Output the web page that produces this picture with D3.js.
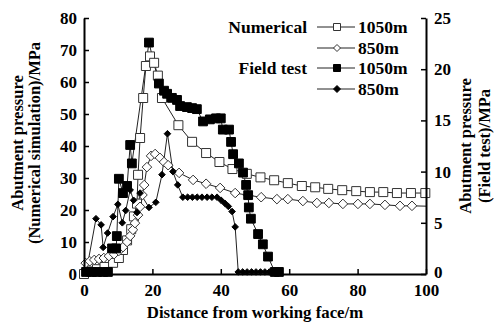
<!DOCTYPE html>
<html>
<head>
<meta charset="utf-8">
<script src="https://cdn.jsdelivr.net/npm/d3@7"></script>
<style>
  body { margin: 0; background: #fff; }
  svg { display: block; }
  text { font-family: "Liberation Serif", "Times New Roman", serif; font-weight: bold; fill: #000; }
</style>
</head>
<body>
<svg width="496" height="323"></svg>
<script>
// Numerical simulation, left axis (MPa)
var num1050X = [0, 1.8, 3.8, 6, 8.5, 10.2, 11.4, 12.6, 13.8, 14.6, 15.5, 15.8, 16.4, 17.3, 18.1, 19.3, 20.5, 21.6, 22.8, 27.6,
    31.6, 35.7, 39.6, 43.4, 47.6, 51.6, 55.6, 59.6, 63.7, 67.6, 71.4, 75.5, 79.6, 83.6, 87.5, 91.5, 95.6, 99.8];
var num1050Y = [0, 0.8, 1.5, 2.2, 3.5, 5, 7.5, 10.5, 14, 18, 22, 31, 42.5, 55, 65, 68, 66, 62, 55, 46.5,
    41.3, 37.8, 35, 32.8, 31.3, 30.2, 29.3, 28.4, 27.5, 27.1, 26.6, 26.2, 25.9, 25.6, 25.6, 25.3, 25.3, 25.3];

var num850X = [0.5, 1.7, 3.0, 4.4, 5.8, 7.3, 8.8, 10.2, 11.4, 12.6, 13.5, 14.3, 14.9, 15.8, 16.4, 17.1, 17.6, 18.4, 19.6, 20.8,
    22.2, 23.4, 24.6, 27.8, 31.9, 35.7, 39.8, 44.2, 48, 51.8, 56.4, 59.6, 64, 68.1, 71.6, 75.7, 80.1, 83.6, 88, 92.4, 95.9, 100];
var num850Y = [3.4, 4, 4.4, 4.7, 5, 5.6, 6.2, 7.2, 8.4, 10, 11.9, 13.8, 15.9, 18.4, 21, 24.7, 27.8, 33.4, 36.9, 37.5,
    36.3, 35, 34, 31.6, 29.4, 28.2, 26.9, 25.3, 24.6, 24, 23.4, 23.4, 22.8, 22.2, 22.2, 21.9, 21.9, 21.9, 21.6, 21.3, 21.3, 21.2];

// Field test, right axis (MPa)
var field1050X = [0.6, 2.3, 3.8, 5.6, 7, 8.2, 9.4, 9.6, 10.2, 11.4, 12.6, 13.5, 14, 19, 21.9, 23.4, 24.3, 25.7, 27.2, 28.1,
    30.1, 31.6, 33, 34.8, 36.8, 38.6, 40, 40.6, 42.4, 43, 43.6, 45.3, 46.5, 47.4, 48, 48.2, 48.8, 50.9, 52.3, 53.8, 55.8, 57];
var field1050Y = [0.2, 0.2, 0.2, 0.2, 0.2, 2.5, 2.5, 3.7, 9.3, 7.9, 8.6, 12.6, 10.8, 22.6, 18.6, 17.9, 17.6, 17.2, 17, 16.4,
    16.3, 16.2, 16.1, 14.9, 15.1, 15.2, 15.2, 14.1, 14.1, 12.9, 11.7, 10.8, 9.9, 8.7, 7.7, 6.5, 5.4, 3.9, 2.9, 1.7, 0.2, 0.2];

var field850X = [0.6, 3.5, 5.0, 5.6, 6.9, 8.5, 9.9, 11.2, 12.2, 13.5, 14.5, 15.5, 16.4, 19, 21, 22.8, 24.4, 26, 27.4, 28.9,
    30.3, 31.7, 33.1, 34.5, 36, 37.4, 38.9, 40.1, 41.2, 42.2, 43.3, 44.2, 45.1, 46.4, 47.7, 49, 50.3, 51.6, 52.9, 54.2, 55.5];
var field850Y = [0.1, 5.4, 4.8, 2.6, 4.0, 5.6, 6.8, 5.0, 6.2, 8.2, 7.2, 6.0, 7.9, 6.5, 7.0, 9.7, 13.7, 10.0, 8.7, 7.5,
    7.5, 7.5, 7.5, 7.5, 7.5, 7.5, 7.5, 7.2, 6.9, 6.6, 6.1, 4.6, 0.2, 0.2, 0.2, 0.2, 0.2, 0.2, 0.2, 0.2, 0.2];

// Tick labels
var xTicks = [0, 20, 40, 60, 80, 100];
var yLeftTicks = [0, 10, 20, 30, 40, 50, 60, 70, 80];
var yRightTicks = [0, 5, 10, 15, 20, 25];

var svg = d3.select("svg"),
    margin = {top: 18, right: 70, bottom: 49, left: 84},
    width = svg.attr("width") - margin.left - margin.right,
    height = svg.attr("height") - margin.top - margin.bottom,
    g = svg.append("g").attr("transform", "translate(" + margin.left + "," + margin.top + ")");

var x = d3.scaleLinear().domain([0, 100]).range([0, width]),
    yL = d3.scaleLinear().domain([0, 80]).range([height, 0]),
    yR = d3.scaleLinear().domain([0, 25]).range([height, 0]);

function zip(xs, ys) {
    return xs.map(function(v, i) { return {x: v, y: ys[i]}; });
}

// de vier reeksen, met marker-type en welke y-as
var series = [
    {name: "num1050", data: zip(num1050X, num1050Y), y: yL, marker: "square", fill: "#fff", size: 9},
    {name: "num850", data: zip(num850X, num850Y), y: yL, marker: "diamond", fill: "#fff", size: 4.8},
    {name: "field850", data: zip(field850X, field850Y), y: yR, marker: "diamond", fill: "#000", size: 3.3},
    {name: "field1050", data: zip(field1050X, field1050Y), y: yR, marker: "square", fill: "#000", size: 8.8}
];

function markerPath(type, s) {
    if (type === "square") {
        var h = s / 2;
        return "M" + (-h) + "," + (-h) + "H" + h + "V" + h + "H" + (-h) + "Z";
    }
    return "M0," + (-s) + "L" + s + ",0L0," + s + "L" + (-s) + ",0Z";
}

// lijnen eerst
series.forEach(function(s) {
    var line = d3.line()
        .x(function(d) { return x(d.x); })
        .y(function(d) { return s.y(d.y); });
    g.append("path")
        .datum(s.data)
        .attr("fill", "none")
        .attr("stroke", "#222")
        .attr("stroke-width", 1)
        .attr("d", line);
});

// dan de markers
series.forEach(function(s) {
    g.selectAll(".m-" + s.name)
        .data(s.data.filter(function(d) { return !(s.name === "num850" && d.x >= 100); }))
        .enter().append("path")
        .attr("class", "m-" + s.name)
        .attr("transform", function(d) { return "translate(" + x(d.x) + "," + s.y(d.y) + ")"; })
        .attr("d", markerPath(s.marker, s.size))
        .attr("fill", s.fill)
        .attr("stroke", s.fill === "#fff" ? "#333" : "#000")
        .attr("stroke-width", 1);
});

// assen
var xAxis = g.append("g")
    .attr("transform", "translate(0," + height + ")")
    .call(d3.axisBottom(x).tickValues(xTicks).tickSizeInner(-5).tickSizeOuter(0).tickPadding(10));

var yAxisL = g.append("g")
    .call(d3.axisLeft(yL).tickValues(yLeftTicks).tickSizeInner(-5).tickSizeOuter(0).tickPadding(7));

var yAxisR = g.append("g")
    .attr("transform", "translate(" + width + ",0)")
    .call(d3.axisRight(yR).tickValues(yRightTicks).tickSizeInner(-5).tickSizeOuter(0).tickPadding(8));

[xAxis, yAxisL, yAxisR].forEach(function(a) {
    a.select(".domain").attr("stroke", "#000").attr("stroke-width", 2);
    a.selectAll(".tick line").attr("stroke", "#000").attr("stroke-width", 1.5);
    a.selectAll(".tick text")
        .style("font-family", '"Liberation Serif", serif')
        .style("font-weight", "bold")
        .style("font-size", "17px")
        .attr("fill", "#000");
});

// rechter "0" iets omhoog zodat het niet tegen "100" aan komt
yAxisR.selectAll(".tick text").filter(function(d) { return d === 0; }).attr("dy", "0.2em");

// as-titels
svg.append("text")
    .attr("x", margin.left + width / 2)
    .attr("y", 318)
    .attr("text-anchor", "middle")
    .style("font-size", "16.8px")
    .text("Distance from working face/m");

var leftTitle = svg.append("text")
    .attr("transform", "translate(23," + (margin.top + height / 2 - 3) + ") rotate(-90)")
    .attr("text-anchor", "middle")
    .style("font-size", "16.5px");
leftTitle.append("tspan").attr("x", 0).attr("y", 0).text("Abutment  pressure");
leftTitle.append("tspan").attr("x", 0).attr("y", 17).text("(Numerical  simulation)/MPa");

var rightTitle = svg.append("text")
    .attr("transform", "translate(471," + (margin.top + height / 2) + ") rotate(-90)")
    .attr("text-anchor", "middle")
    .style("font-size", "16.5px");
rightTitle.append("tspan").attr("x", 0).attr("y", 0).text("Abutment  pressure");
rightTitle.append("tspan").attr("x", 0).attr("y", 19).text("(Field test)/MPa");

// legenda
var legendRows = [
    {group: "Numerical", label: "1050m", s: series[0], yy: 27},
    {group: "", label: "850m", s: series[1], yy: 48},
    {group: "Field test", label: "1050m", s: series[3], yy: 68},
    {group: "", label: "850m", s: series[2], yy: 89}
];

var legend = svg.append("g");
legendRows.forEach(function(r) {
    legend.append("line")
        .attr("x1", 317).attr("x2", 355)
        .attr("y1", r.yy).attr("y2", r.yy)
        .attr("stroke", "#222").attr("stroke-width", 1);
    legend.append("path")
        .attr("transform", "translate(337," + r.yy + ")")
        .attr("d", markerPath(r.s.marker, r.s.marker === "square" ? 7 : 3.5))
        .attr("fill", r.s.fill)
        .attr("stroke", r.s.fill === "#fff" ? "#333" : "#000");
    legend.append("text")
        .attr("x", 358).attr("y", r.yy + 6)
        .style("font-size", "17.5px")
        .text(r.label);
    if (r.group) {
        legend.append("text")
            .attr("x", 307).attr("y", r.yy + 6)
            .attr("text-anchor", "end")
            .style("font-size", "17.5px")
            .text(r.group);
    }
});
</script>
</body>
</html>
